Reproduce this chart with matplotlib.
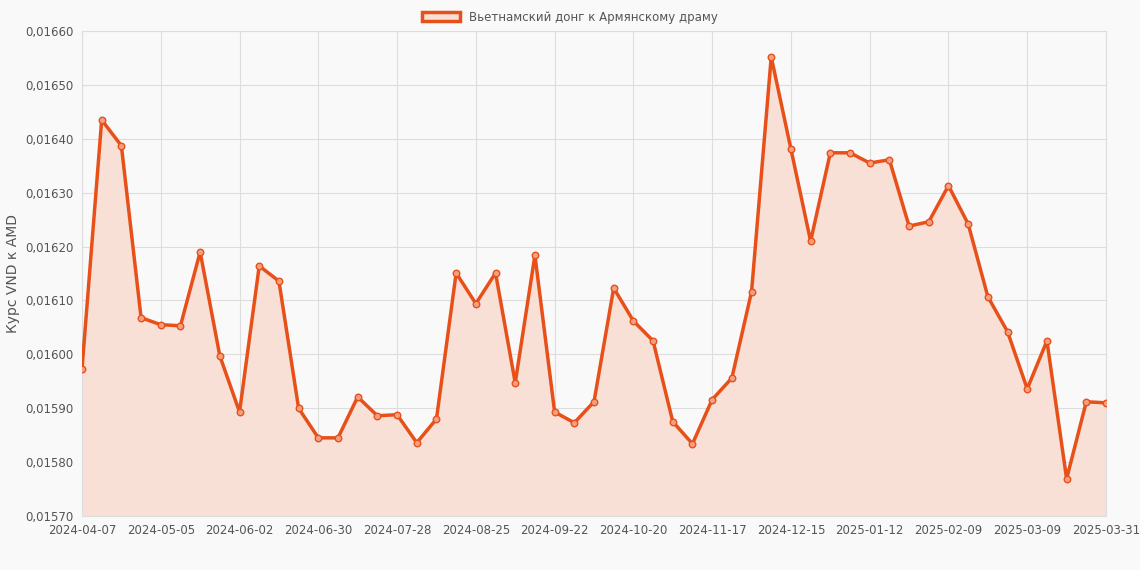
import matplotlib.pyplot as plt
from matplotlib.patches import Patch
from matplotlib.lines import Line2D
import datetime as dt

# weekly dates, last label as shown on the chart
start = dt.date(2024, 4, 7)
labels = [(start + dt.timedelta(weeks=i)).isoformat() for i in range(52)] + ["2025-03-31"]

rates = [0.015973, 0.016435, 0.016387, 0.016068, 0.016055, 0.016053, 0.016190, 0.015997,
         0.015893, 0.016164, 0.016136, 0.015900, 0.015845, 0.015845, 0.015921, 0.015886,
         0.015888, 0.015836, 0.015880, 0.016151, 0.016094, 0.016151, 0.015947, 0.016184,
         0.015893, 0.015873, 0.015912, 0.016123, 0.016062, 0.016025, 0.015875, 0.015834,
         0.015916, 0.015956, 0.016116, 0.016552, 0.016381, 0.016210, 0.016374, 0.016374,
         0.016355, 0.016361, 0.016238, 0.016246, 0.016313, 0.016242, 0.016107, 0.016042,
         0.015936, 0.016025, 0.015769, 0.015912, 0.015910]

line_c = "#e8501a"
fill_c = "#f9e0d6"
bg = "#f9f9f9"

fig = plt.figure(figsize=(11.4, 5.7), dpi=100, facecolor=bg)
ax = fig.add_axes([82/1140, 1 - 516/570, (1106-82)/1140, (516-31)/570])
ax.set_facecolor(bg)

x = list(range(len(rates)))
ax.fill_between(x, rates, 0.0157, color=fill_c, zorder=1)
ax.plot(x, rates, color=line_c, lw=2.5, zorder=3)
ax.scatter(x, rates, s=22, facecolor="#f4a080", edgecolor=line_c, lw=1, zorder=4)

ax.set_xlim(0, len(rates) - 1)
ax.set_ylim(0.0157, 0.0166)
ticks = list(range(0, 49, 4)) + [52]
ax.set_xticks(ticks)
ax.set_xticklabels([labels[i] for i in ticks], fontsize=8.5, color="#555555")
ax.set_xticks(range(0, 53, 4), minor=False)
ax.set_xticks(ticks)
yt = [0.0157 + 0.0001 * i for i in range(10)]
ax.set_yticks(yt)
ax.set_yticklabels([f"{v:.5f}".replace(".", ",") for v in yt], fontsize=8.5, color="#555555")
ax.grid(True, color="#dddddd", lw=0.8)
ax.set_axisbelow(True)
for s in ax.spines.values():
    s.set_color("#dddddd")
ax.tick_params(length=0, pad=6)
ax.set_ylabel("Курс VND к AMD", fontsize=10, color="#555555")

handle = Patch(facecolor=fill_c, edgecolor=line_c, lw=2.5)
fig.legend([handle], ["Вьетнамский донг к Армянскому драму"], loc="upper center",
           bbox_to_anchor=(0.5, 1.0), frameon=False, fontsize=8.5,
           handlelength=3.2, handleheight=0.9, labelcolor="#555555")

fig.savefig("out.png", dpi=100, facecolor=bg)
